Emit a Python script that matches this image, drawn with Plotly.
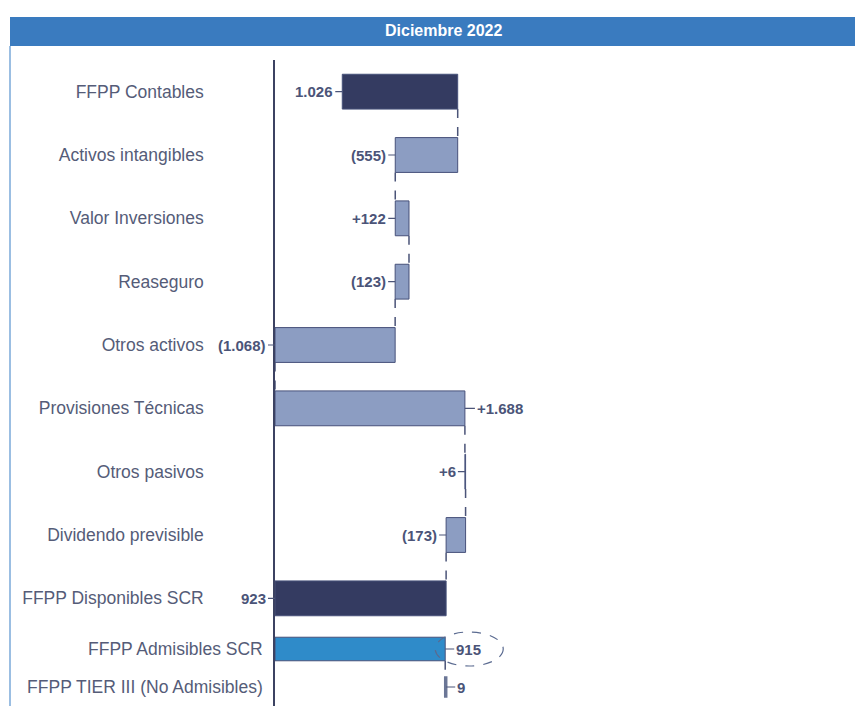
import plotly.graph_objects as go

# ---------------- data ----------------
title_text = "Diciembre 2022"
categories_top = ["FFPP Contables", "Activos intangibles", "Valor Inversiones", "Reaseguro",
                  "Otros activos", "Provisiones Técnicas", "Otros pasivos", "Dividendo previsible"]
changes_top = [1026, -555, 122, -123, -1068, 1688, 6, -173]
total_category = "FFPP Disponibles SCR"
total_value = 923
categories_bottom = ["FFPP Admisibles SCR", "FFPP TIER III (No Admisibles)"]
values_bottom = [915, 9]

# ---------------- styles ----------------
DARK = "#343b61"
LIGHT = "#8c9dc2"
EDGE = "#47517a"
BLUE = "#2f8bc9"
GREY = "#6b7696"
TXT = "#555c78"
VAL = "#4b5478"
W_TOP = 0.55
W_BOT = [0.62, 0.5]
SCALE = 0.1125  # px per unit
PLOT_W = 863 - 275
PLOT_H = 646
FONT = "Liberation Sans, Arial"
label_right_top = [False, False, False, False, False, True, False, False, False]


def fmt(v):
    return f"{abs(v):,}".replace(",", ".")


# ---------------- waterfall geometry from data ----------------
bases, lengths, texts, colors = [], [], [], []
cum = 0
ends = []
for i, d in enumerate(changes_top):
    start = cum
    cum += d
    ends.append(cum)
    bases.append(min(start, cum))
    lengths.append(abs(d))
    if i == 0:
        texts.append(fmt(d))
        colors.append(DARK)
    else:
        texts.append(("+" + fmt(d)) if d > 0 else "(" + fmt(d) + ")")
        colors.append(LIGHT)
xmin = min([0] + ends)
cats_top = categories_top + [total_category]
bases.append(xmin)
lengths.append(total_value - xmin)
texts.append(fmt(total_value))
colors.append(DARK)

b_bases = [xmin, values_bottom[0]]
b_lengths = [values_bottom[0] - xmin, values_bottom[1]]
b_texts = [fmt(v) for v in values_bottom]
b_colors = [BLUE, GREY]

fig = go.Figure()
fig.add_trace(go.Bar(
    y=cats_top, x=lengths, base=bases, orientation="h", width=W_TOP,
    marker=dict(color=colors, line=dict(color=EDGE, width=1)),
    xaxis="x", yaxis="y", hoverinfo="skip", showlegend=False))
fig.add_trace(go.Bar(
    y=categories_bottom, x=b_lengths, base=b_bases, orientation="h", width=W_BOT,
    marker=dict(color=b_colors, line=dict(color=[EDGE, GREY], width=[1, 2.5])),
    xaxis="x", yaxis="y2", hoverinfo="skip", showlegend=False))

annotations = []
shapes = []
for i, c in enumerate(cats_top):
    right = label_right_top[i]
    xpos = bases[i] + lengths[i] if right else bases[i]
    annotations.append(dict(
        x=xpos, y=c, xref="x", yref="y", text=f"<b>{texts[i]}</b>",
        showarrow=True, arrowhead=0, arrowwidth=1.2, arrowcolor=VAL,
        ax=10 if right else -7, ay=0, xanchor="left" if right else "right",
        font=dict(family=FONT, size=15, color=VAL)))
for i, c in enumerate(categories_bottom):
    xpos = b_bases[i] + b_lengths[i]
    annotations.append(dict(
        x=xpos, y=c, xref="x", yref="y2", text=f"<b>{b_texts[i]}</b>",
        showarrow=True, arrowhead=0, arrowwidth=1.2, arrowcolor=VAL,
        ax=9, ay=0, xanchor="left",
        font=dict(family=FONT, size=15, color=VAL)))

# connectors
for i in range(len(ends)):
    shapes.append(dict(type="line", xref="x", yref="y", x0=ends[i], x1=ends[i],
                       y0=i + W_TOP / 2, y1=i + 1 - W_TOP / 2,
                       line=dict(color=VAL, width=1.5, dash="dash")))
shapes.append(dict(type="line", xref="x", yref="y2", x0=values_bottom[0], x1=values_bottom[0],
                   y0=W_BOT[0] / 2, y1=1 - W_BOT[1] / 2,
                   line=dict(color=VAL, width=1.5, dash="dash")))
# ellipse highlight
shapes.append(dict(type="circle", xref="x", yref="y2", xsizemode="pixel", ysizemode="pixel",
                   xanchor=values_bottom[0], yanchor=0, x0=-10, x1=58, y0=-17, y1=17,
                   line=dict(color="#5a6a90", width=1.2, dash="dash")))
# header band and frame
L = 275
x_left = (10 - L) / PLOT_W
shapes.append(dict(type="rect", xref="paper", yref="paper", x0=x_left, x1=1,
                   y0=1 + 14 / PLOT_H, y1=1 + 43 / PLOT_H, fillcolor="#3a7bbf",
                   line=dict(width=0), layer="above"))
shapes.append(dict(type="line", xref="paper", yref="paper", x0=x_left, x1=x_left,
                   y0=-0.01, y1=1 + 14 / PLOT_H, line=dict(color="#7aa9d8", width=1.5)))
annotations.append(dict(x=(444 - L) / PLOT_W, y=1 + 29 / PLOT_H, xref="paper", yref="paper",
                        xanchor="center", yanchor="middle",
                        text=f"<b>{title_text}</b>", showarrow=False,
                        font=dict(family=FONT, size=16, color="white")))

# page body has an 8px margin: shift the figure so the plot sits where the reference does
OFF = 8
fig.update_layout(
    width=863 - OFF, height=706 - OFF,
    margin=dict(l=L - OFF, r=0, t=60 - OFF, b=0),
    paper_bgcolor="white", plot_bgcolor="white",
    barmode="overlay",
    xaxis=dict(range=[xmin, xmin + PLOT_W / SCALE], visible=False, fixedrange=True),
    yaxis=dict(domain=[76 / PLOT_H, 1], anchor="x", categoryorder="array", categoryarray=cats_top,
               autorange="reversed", showline=True, linecolor="#3c4262", linewidth=1.5,
               showgrid=False, zeroline=False, ticks="", ticklabelstandoff=66,
               tickfont=dict(family=FONT, size=17.5, color=TXT)),
    yaxis2=dict(domain=[0, 76 / PLOT_H], anchor="x", categoryorder="array", categoryarray=categories_bottom,
                autorange="reversed", showline=True, linecolor="#3c4262", linewidth=1.5,
                showgrid=False, zeroline=False, ticks="", ticklabelstandoff=7,
                tickfont=dict(family=FONT, size=17.5, color=TXT)),
    annotations=annotations,
    shapes=shapes,
)

fig.write_html("out.html")
